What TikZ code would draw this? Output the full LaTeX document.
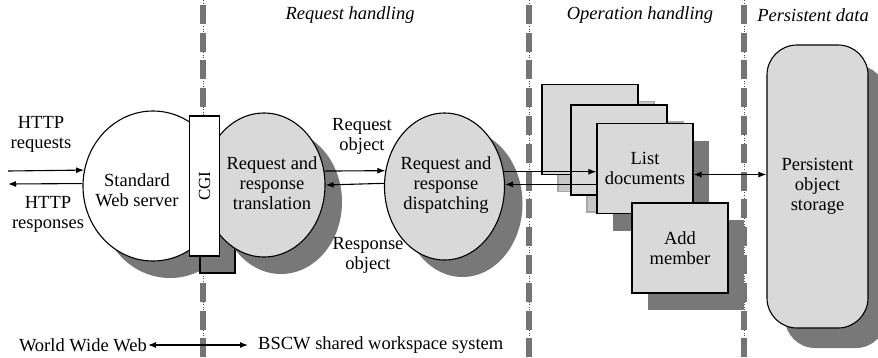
\documentclass[tikz,border=0pt]{standalone}
\usepackage{fontspec}
\setmainfont{Liberation Serif}
\usetikzlibrary{arrows.meta,shapes.geometric,shadows}
\definecolor{lightfill}{gray}{0.85}
\definecolor{darkshade}{gray}{0.47}
\definecolor{paleshade}{gray}{0.78}
\definecolor{paleline}{gray}{0.66}
\definecolor{divfill}{gray}{0.46}
\tikzset{
  txt/.style={align=center, inner sep=0pt},
  title/.style={inner sep=0pt, font=\fontsize{18.5}{20}\selectfont\itshape},
  proc/.style={ellipse, draw=black, line width=1.1pt, fill=lightfill, inner sep=0pt},
  procshade/.style={drop shadow={shadow xshift=17pt, shadow yshift=-17pt, fill=darkshade, opacity=1}},
  cgibox/.style={rectangle, draw=black, line width=1.1pt, fill=white, inner sep=0pt, font=\fontsize{17}{20}\selectfont},
  cgishade/.style={rectangle, draw=black, line width=1.1pt, fill=darkshade, inner sep=0pt},
  opbox/.style={rectangle, draw=black, line width=1.1pt, fill=lightfill, minimum width=96, minimum height=90, align=center, inner sep=0pt},
  darkshadow/.style={drop shadow={shadow xshift=16pt, shadow yshift=-17pt, fill=darkshade, opacity=1}},
  paleshadow/.style={drop shadow={shadow xshift=16pt, shadow yshift=-17pt, fill=paleshade, draw=paleline, opacity=1}},
  store/.style={rectangle, rounded corners=30pt, draw=black, line width=1.1pt, fill=lightfill, minimum width=101, minimum height=283, align=center,
    drop shadow={shadow xshift=18pt, shadow yshift=-20pt, fill=darkshade, opacity=1}},
  divline/.style={dotted, line width=0.6pt, black!70},
  divbox/.style={fill=divfill, draw=black!55, line width=0.4pt},
  conn/.style={line width=1.1pt, -{Latex[length=8pt,width=6pt]}},
  dconn/.style={line width=1.1pt, {Latex[length=8pt,width=6pt]}-{Latex[length=8pt,width=6pt]}},
}

\begin{document}
\begin{tikzpicture}[x=1pt,y=-1pt,font=\fontsize{18.5}{20}\selectfont]
	\useasboundingbox (0,0) rectangle (878,357);
	
	% dividers
	\foreach \xd in {203,529,744}{
		\draw[divline] (\xd,0) -- (\xd,357);
		\foreach \k in {0,...,12}
			\draw[divbox] ({\xd-2.5},{5+27.8*\k}) rectangle ++(5,18);
	}
	
	\node[title] (hdreq) at (350,15) {Request handling};
	\node[title] (hdop) at (640,15) {Operation handling};
	\node[title] (hdpers) at (813,15) {Persistent data};
	
	% web server, CGI and translation
	\node[proc, fill=white, procshade, minimum width=140, minimum height=150] (web) at (153,186) {};
	\node[cgishade, minimum width=35, minimum height=133] (cgish) at (217.5,206.5) {};
	\node[proc, procshade, minimum width=122, minimum height=144] (trans) at (264,185) {};
	\node[cgibox, rotate=90, minimum width=140, minimum height=30] (cgi) at (204.5,186) {CGI};
	\node[txt] (webtxt) at (137,190) {Standard\\Web server};
	\node[txt] (transtxt) at (272,183) {Request and\\response\\translation};
	
	% dispatching
	\node[proc, drop shadow={shadow xshift=18pt, shadow yshift=-17pt, fill=darkshade, opacity=1}, minimum width=120, minimum height=147] (disp) at (444.5,186.5) {};
	\node[txt] (disptxt) at (446,185) {Request and\\response\\dispatching};
	
	% operations
	\node[opbox, paleshadow] (op1) at (590,129.5) {};
	\node[opbox, paleshadow] (op2) at (619,150) {};
	\node[opbox, darkshadow] (listdoc) at (645,168.5) {List\\documents};
	\node[opbox, darkshadow] (addmem) at (680,248) {Add\\member};
	
	\node[store] (store) at (817.5,186.5) {Persistent\\object\\storage};
	
	\node[txt] (httpreq) at (41,134) {HTTP\\requests};
	\node[txt] (httpresp) at (48,214) {HTTP\\responses};
	\node[txt] (reqobj) at (362,136) {Request\\object};
	\node[txt] (respobj) at (368,255) {Response\\object};
	
	\coordinate (reqin) at (8,171);
	\coordinate (respout) at (8,184);
	\draw[conn] (reqin) -- (web.167.7);
	\draw[conn] (web.178.4) -- (respout);
	\draw[conn] (trans.13.2) -- (disp.165.2);
	\draw[conn] (disp.177.6) -- (trans.0.9);
	\draw[conn] (disp.14.8) -- (disp.14.8 -| listdoc.west);
	\draw[conn] (disp.2.4 -| listdoc.west) -- (disp.2.4);
	\draw[dconn] ([yshift=-6pt]listdoc.east) -- ([yshift=-6pt]listdoc.east -| store.west);
	
	\node[txt, anchor=east] (www) at (147,345) {World Wide Web};
	\node[txt, anchor=west] (bscw) at (258,345) {BSCW shared workspace system};
	\draw[dconn] ([xshift=1pt]www.east) -- ([xshift=-10pt]bscw.west);
\end{tikzpicture}
\end{document}
